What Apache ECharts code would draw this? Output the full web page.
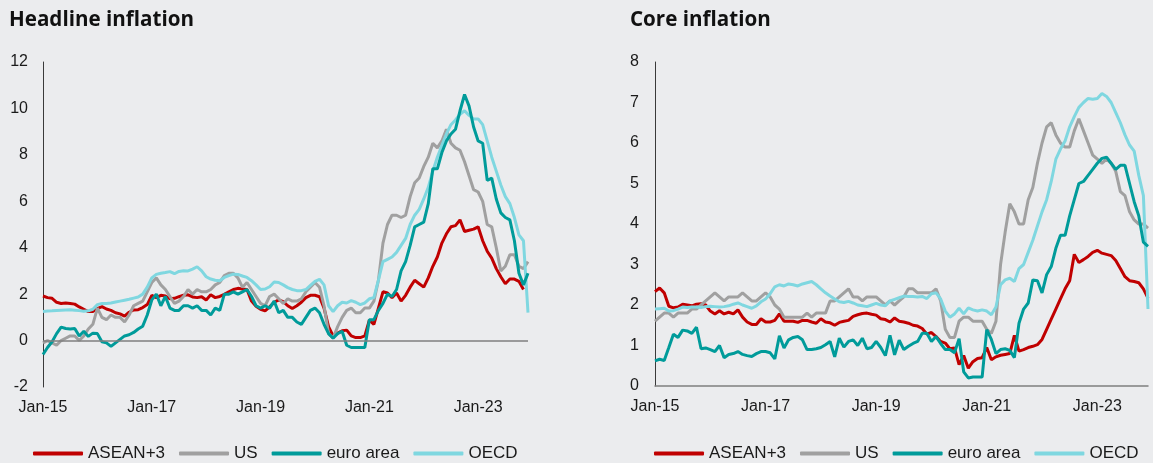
<!DOCTYPE html>
<html>
<head>
<meta charset="utf-8">
<script src="https://cdn.jsdelivr.net/npm/echarts@6/dist/echarts.min.js"></script>
<style>
html, body { margin: 0; padding: 0; background: #ebecee; }
#chart { width: 1153px; height: 463px; }
</style>
</head>
<body>
<div id="chart"></div>
<script>
// monthly data, Jan-15 .. Dec-23
var monthNames = ["Jan", "Feb", "Mar", "Apr", "May", "Jun", "Jul", "Aug", "Sep", "Oct", "Nov", "Dec"];
var years = ["15", "16", "17", "18", "19", "20", "21", "22", "23"];
var seriesNames = ["ASEAN+3", "US", "euro area", "OECD"];
var headTicks = [-2, 12, 2];
var coreTicks = [0, 8, 1];

// headline inflation
var headAsean = [
  1.92, 1.85, 1.82, 1.65, 1.6, 1.62, 1.6, 1.57, 1.45, 1.35, 1.25, 1.25,
  1.38, 1.46, 1.36, 1.3, 1.2, 1.15, 1.05, 1.22, 1.32, 1.33, 1.42, 1.55,
  1.95, 1.85, 1.95, 1.92, 1.8, 1.82, 1.89, 1.95, 1.97, 1.88, 1.85, 1.89,
  1.75, 1.97, 1.85, 1.9, 1.99, 2.1, 2.2, 2.25, 2.22, 2.2, 1.7, 1.48,
  1.35, 1.28, 1.45, 1.65, 1.75, 1.68, 1.5, 1.38, 1.5, 1.65, 1.85, 1.95,
  1.95, 1.89, 1.4, 0.6, 0.2, 0.32, 0.42, 0.45, 0.2, 0.13, 0.13, 0.2,
  0.88, 0.7, 1.4, 2.1, 2.05, 1.85, 2.05, 1.7, 1.95, 2.3, 2.6, 2.45,
  2.3, 2.7, 3.2, 3.6, 4.2, 4.6, 4.9, 4.95, 5.2, 4.7, 4.75, 4.8,
  4.9, 4.3, 3.85, 3.55, 3.1, 2.75, 2.45, 2.65, 2.65, 2.55, 2.2, null
];
var headUs = [
  -0.1, 0.0, -0.1, -0.2, 0.0, 0.1, 0.2, 0.2, 0.0, 0.2, 0.5, 0.7,
  1.4, 1.0, 0.9, 1.1, 1.0, 1.0, 0.8, 1.1, 1.5, 1.6, 1.7, 2.1,
  2.5, 2.7, 2.4, 2.2, 1.9, 1.6, 1.7, 1.9, 2.2, 2.0, 2.2, 2.1,
  2.1, 2.2, 2.4, 2.5, 2.8, 2.9, 2.9, 2.7, 2.3, 2.5, 2.2, 1.9,
  1.6, 1.5, 1.9, 2.0, 1.8, 1.6, 1.8, 1.7, 1.7, 1.8, 2.1, 2.3,
  2.5, 2.3, 1.5, 0.3, 0.1, 0.6, 1.0, 1.3, 1.4, 1.2, 1.2, 1.4,
  1.4, 1.7, 2.6, 4.2, 5.0, 5.4, 5.4, 5.3, 5.4, 6.2, 6.8, 7.0,
  7.5, 7.9, 8.5, 8.3, 8.6, 9.1, 8.5, 8.3, 8.2, 7.7, 7.1, 6.5,
  6.4, 6.0, 5.0, 4.9, 4.0, 3.0, 3.2, 3.7, 3.7, 3.2, 3.1, 3.4
];
var headEuro = [
  -0.6, -0.3, -0.05, 0.3, 0.58, 0.52, 0.5, 0.52, 0.2, 0.4, 0.18, 0.32,
  0.3, -0.05, -0.1, -0.25, -0.1, 0.05, 0.2, 0.25, 0.35, 0.5, 0.62, 1.1,
  1.75, 2.0, 1.5, 1.9, 1.4, 1.3, 1.3, 1.5, 1.5, 1.4, 1.5, 1.3,
  1.3, 1.1, 1.4, 1.3, 2.0, 2.0, 2.1, 2.0, 2.1, 2.2, 1.9, 1.5,
  1.4, 1.5, 1.4, 1.7, 1.2, 1.3, 1.0, 1.0, 0.8, 0.7, 1.0, 1.3,
  1.4, 1.2, 0.7, 0.3, 0.1, 0.3, 0.4, -0.2, -0.3, -0.3, -0.3, -0.3,
  0.9, 0.9, 1.3, 1.6, 2.0, 1.9, 2.2, 3.0, 3.4, 4.1, 4.9, 5.0,
  5.1, 5.9, 7.4, 7.4, 8.1, 8.6, 8.9, 9.1, 9.9, 10.6, 10.1, 9.2,
  8.6, 8.5, 6.9, 7.0, 6.1, 5.5, 5.3, 5.2, 4.3, 2.9, 2.4, 2.9
];
var headOecd = [
  1.25, 1.27, 1.28, 1.3, 1.31, 1.32, 1.33, 1.31, 1.29, 1.26, 1.28, 1.35,
  1.55, 1.6, 1.6, 1.62, 1.66, 1.7, 1.74, 1.78, 1.83, 1.88, 2.0, 2.3,
  2.7, 2.85, 2.9, 2.93, 2.97, 2.88, 2.98, 3.01, 3.0, 3.08, 3.18, 3.0,
  2.75, 2.65, 2.6, 2.58, 2.72, 2.8, 2.86, 2.85, 2.78, 2.72, 2.58, 2.4,
  2.2, 2.22, 2.32, 2.52, 2.5, 2.4, 2.28, 2.2, 2.15, 2.15, 2.2, 2.38,
  2.55, 2.64, 2.4, 1.5, 1.25, 1.5, 1.65, 1.62, 1.72, 1.65, 1.55, 1.62,
  1.8, 1.85, 2.6, 3.4, 3.5, 3.6, 3.8, 4.1, 4.4, 5.0, 5.4, 5.65,
  6.1, 6.6, 7.3, 7.9, 8.4, 8.9, 9.3, 9.5, 9.75, 9.9, 9.7, 9.55,
  9.55, 9.3, 8.6, 7.9, 7.3, 6.7, 6.2, 5.9, 5.3, 4.55, 4.3, 1.2
];

// core inflation
var coreAsean = [
  2.33, 2.42, 2.3, 1.97, 1.93, 1.95, 2.02, 2.0, 1.98, 2.02, 2.03, 2.0,
  1.85, 1.78, 1.86, 1.78, 1.82, 1.78, 1.88, 1.7, 1.58, 1.52, 1.52, 1.66,
  1.58, 1.58, 1.62, 1.78, 1.6, 1.6, 1.6, 1.57, 1.62, 1.62, 1.58, 1.55,
  1.66, 1.58, 1.56, 1.5, 1.57, 1.6, 1.62, 1.72, 1.76, 1.79, 1.8, 1.77,
  1.75, 1.66, 1.64, 1.58, 1.68, 1.6, 1.58, 1.55, 1.5, 1.48, 1.42, 1.28,
  1.32, 1.22, 1.1, 1.06, 0.92, 0.94, 0.53, 0.75, 0.44, 0.6, 0.68, 0.7,
  0.95, 0.65, 0.72, 0.76, 0.78, 0.8, 1.25, 0.86, 0.9, 0.95, 0.98, 1.02,
  1.15, 1.4, 1.65, 1.9, 2.15, 2.4, 2.6, 3.25, 3.05, 3.12, 3.2, 3.3,
  3.35, 3.28, 3.25, 3.22, 3.1, 2.9, 2.7, 2.6, 2.58, 2.55, 2.4, 2.17
];
var coreUs = [
  1.6, 1.7, 1.8, 1.8, 1.7, 1.8, 1.8, 1.8, 1.9, 1.9, 2.0, 2.1,
  2.2, 2.3, 2.2, 2.1, 2.2, 2.2, 2.2, 2.3, 2.2, 2.1, 2.1, 2.2,
  2.3, 2.2, 2.0, 1.9, 1.7, 1.7, 1.7, 1.7, 1.7, 1.8, 1.7, 1.8,
  1.8, 1.8, 2.1, 2.1, 2.2, 2.3, 2.4, 2.2, 2.2, 2.1, 2.2, 2.2,
  2.2, 2.1, 2.0, 2.1, 2.0, 2.1, 2.2, 2.4, 2.4, 2.3, 2.3, 2.3,
  2.3, 2.4, 2.1, 1.4, 1.2, 1.2, 1.6, 1.7, 1.7, 1.6, 1.6, 1.6,
  1.4, 1.3, 1.6, 3.0, 3.8, 4.5, 4.3, 4.0, 4.0, 4.6, 4.9, 5.5,
  6.0, 6.4, 6.5, 6.2, 6.0, 5.9, 5.9, 6.3, 6.6, 6.3, 6.0, 5.7,
  5.6, 5.5, 5.6, 5.5, 5.3, 4.8, 4.7, 4.3, 4.1, 4.0, 4.0, 3.9
];
var coreEuro = [
  0.62, 0.66, 0.63, 0.95, 1.28, 1.2, 1.38, 1.36, 1.3, 1.45, 0.92, 0.94,
  0.9, 0.85, 1.0, 0.7, 0.78, 0.8, 0.85, 0.78, 0.75, 0.73, 0.8, 0.85,
  0.85, 0.82, 0.67, 1.24, 0.94, 1.14, 1.2, 1.22, 1.14, 0.9, 0.9, 0.92,
  0.95, 1.02, 1.1, 0.72, 1.18, 0.96, 1.1, 1.14, 1.0, 1.18, 0.92, 0.95,
  1.1, 0.95, 0.75, 1.25, 0.77, 1.13, 0.9, 0.98, 1.05, 1.1, 1.3, 1.3,
  1.1, 1.22, 1.05, 0.9, 0.9, 0.82, 1.17, 0.35, 0.2, 0.22, 0.22, 0.22,
  1.39, 1.15, 0.8, 0.9, 0.92, 0.88, 0.7, 1.55, 1.9, 2.05, 2.62, 2.6,
  2.3, 2.75, 2.95, 3.4, 3.72, 3.72, 4.2, 4.6, 5.0, 5.05, 5.2, 5.35,
  5.5, 5.62, 5.65, 5.5, 5.35, 5.45, 5.45, 5.0, 4.55, 4.2, 3.55, 3.45
];
var coreOecd = [
  1.9, 1.91, 1.92, 1.85, 1.86, 1.9, 1.95, 1.94, 1.95, 1.95, 1.94, 1.96,
  1.97, 1.96, 1.95, 1.96, 1.98, 2.02, 2.05, 2.0, 1.96, 1.92, 1.98, 2.08,
  2.15, 2.28, 2.45, 2.5, 2.47, 2.52, 2.5, 2.47, 2.52, 2.55, 2.58, 2.5,
  2.4, 2.3, 2.22, 2.15, 2.08, 2.06, 2.09, 2.05, 2.0, 1.98, 1.96, 2.0,
  2.04, 2.0, 1.98, 2.1, 2.14, 2.18, 2.22, 2.21, 2.21, 2.2, 2.21, 2.16,
  2.28, 2.3, 2.15, 1.85, 1.7, 1.78, 1.92, 1.78, 1.93, 1.88, 1.85, 1.88,
  1.85, 1.76, 1.95, 2.5, 2.62, 2.66, 2.58, 2.9, 3.0, 3.3, 3.6, 3.95,
  4.3, 4.6, 5.05, 5.6, 5.85, 6.05, 6.4, 6.65, 6.88, 7.0, 7.1, 7.08,
  7.1, 7.22, 7.15, 7.0, 6.75, 6.5, 6.2, 5.95, 5.8, 5.2, 4.7, 1.9
];

var colors = {
  "ASEAN+3": "#c00000",
  "US": "#a0a0a0",
  "euro area": "#009b9a",
  "OECD": "#7fd7e0"
};

var categories = [];
for (var y = 0; y < years.length; y++) {
  for (var m = 0; m < monthNames.length; m++) {
    categories.push(monthNames[m] + "-" + years[y]);
  }
}

var chart = echarts.init(document.getElementById("chart"));

var labelFont = {
  fontFamily: "Liberation Sans, Arial, sans-serif",
  fontSize: 16,
  color: "#1a1a1a"
};

function makeSeries(name, data, idx, extra) {
  var s = {
    name: name,
    type: "line",
    xAxisIndex: idx,
    yAxisIndex: idx,
    data: data,
    symbol: "none",
    showSymbol: false,
    connectNulls: false,
    lineStyle: { width: 3, color: colors[name] },
    itemStyle: { color: colors[name] },
    emphasis: { disabled: true }
  };
  if (extra) {
    for (var k in extra) s[k] = extra[k];
  }
  return s;
}

// zero line of the headline panel (labels stay at the bottom)
var zeroLine = {
  silent: true,
  symbol: "none",
  label: { show: false },
  lineStyle: { color: "#7f7f7f", width: 1.5, type: "solid" },
  data: [{ yAxis: 0 }]
};

function xAxisFor(idx, showLine) {
  return {
    type: "category",
    gridIndex: idx,
    data: categories,
    boundaryGap: false,
    axisLine: { show: showLine, onZero: false, lineStyle: { color: "#7f7f7f", width: 1.5 } },
    axisTick: { show: false },
    axisLabel: Object.assign({ interval: 23, margin: 13 }, labelFont),
    splitLine: { show: false }
  };
}

function yAxisFor(idx, ticks, margin) {
  return {
    type: "value",
    gridIndex: idx,
    min: ticks[0],
    max: ticks[1],
    interval: ticks[2],
    axisLine: { show: true, lineStyle: { color: "#3a3a3a", width: 1 } },
    axisTick: { show: false },
    splitLine: { show: false },
    axisLabel: Object.assign({ margin: margin }, labelFont)
  };
}

function legendFor(left) {
  return {
    left: left,
    top: 445,
    orient: "horizontal",
    icon: "roundRect",
    itemWidth: 50,
    itemHeight: 4,
    itemGap: 14,
    padding: 0,
    selectedMode: false,
    data: seriesNames,
    textStyle: {
      fontFamily: "Liberation Sans, Arial, sans-serif",
      fontSize: 17,
      color: "#1a1a1a"
    }
  };
}

var titleStyle = {
  fontFamily: "Open Sans, sans-serif",
  fontWeight: "bold",
  fontSize: 20.6,
  color: "#111111"
};

chart.setOption({
  animation: false,
  backgroundColor: "#ebecee",
  title: [
    { text: "Headline inflation", left: 9, top: 10, padding: 0, textStyle: titleStyle },
    { text: "Core inflation", left: 630, top: 10, padding: 0, textStyle: titleStyle }
  ],
  legend: [legendFor(33), legendFor(654)],
  grid: [
    { left: 43, top: 62, width: 485, height: 325 },
    { left: 655, top: 62, width: 493, height: 324 }
  ],
  xAxis: [xAxisFor(0, false), xAxisFor(1, true)],
  yAxis: [yAxisFor(0, headTicks, 15), yAxisFor(1, coreTicks, 16)],
  series: [
    makeSeries("ASEAN+3", headAsean, 0, { markLine: zeroLine }),
    makeSeries("US", headUs, 0),
    makeSeries("OECD", headOecd, 0),
    makeSeries("euro area", headEuro, 0),
    makeSeries("ASEAN+3", coreAsean, 1),
    makeSeries("US", coreUs, 1),
    makeSeries("OECD", coreOecd, 1),
    makeSeries("euro area", coreEuro, 1)
  ]
});
</script>
</body>
</html>
